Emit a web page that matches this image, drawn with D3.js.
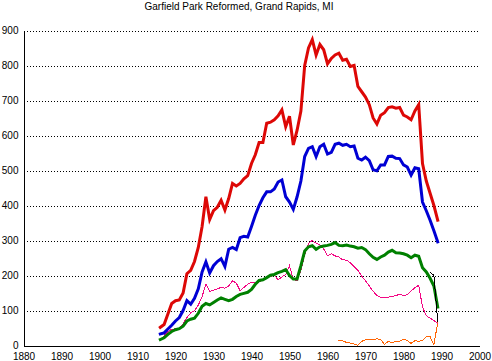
<!DOCTYPE html>
<html>
<head>
<meta charset="utf-8">
<script src="https://cdn.jsdelivr.net/npm/d3@7/dist/d3.min.js"></script>
<style>
html,body{margin:0;padding:0;background:#fff;}
svg{display:block;}
text{font-family:"Liberation Sans",Arial,sans-serif;fill:#000;}
</style>
</head>
<body>
<svg id="chart" width="492" height="361"></svg>
<script>
const title = "Garfield Park Reformed, Grand Rapids, MI";
const xTicks = [1880,1890,1900,1910,1920,1930,1940,1950,1960,1970,1980,1990,2000];
const yTicks = [0,100,200,300,400,500,600,700,800,900];

const years = d3.range(1916, 1990);
const redValues = [52,60,90,120,128,130,150,205,215,240,280,340,425,360,385,395,415,387,420,463,456,463,476,485,520,545,580,580,635,638,645,656,673,625,655,573,615,670,800,850,874,830,860,845,805,820,830,835,815,818,797,800,740,725,710,688,650,633,658,665,680,682,678,680,658,653,645,670,688,520,470,435,400,358];
const blueValues = [33,36,47,58,70,80,100,128,118,135,162,210,239,207,228,240,248,226,275,280,274,308,312,310,340,372,400,422,439,439,447,467,473,425,410,389,425,470,540,563,568,540,568,575,547,552,575,578,572,575,568,570,535,530,538,528,502,499,516,516,540,541,535,534,516,510,487,508,505,410,385,358,328,296];
const greenValues = [17,22,32,40,45,48,55,70,75,78,92,112,120,116,123,130,136,132,128,132,140,146,149,152,160,175,186,188,194,201,203,208,212,217,200,190,190,228,270,282,285,275,282,284,286,289,294,286,285,287,284,282,278,280,274,262,252,246,253,258,267,272,265,264,262,258,251,258,255,222,210,192,170,110];
const magentaValues = [14,28,40,46,48,48,62,80,93,100,115,140,175,155,158,162,166,164,170,185,178,157,166,175,181,178,181,188,193,197,201,188,196,203,228,188,186,215,260,292,300,292,287,276,256,262,256,253,245,244,236,226,215,198,185,170,155,143,138,138,138,140,143,146,143,145,156,165,172,110,85,78,72,62];
const orangeYears = d3.range(1963, 1990);
const orangeValues = [14,13,9,7,4,1,12,16,16,17,19,17,3,12,8,12,12,18,14,6,14,12,15,25,25,2,65];
const blackYears = [1987, 1988, 1989];
const blackValues = [210, 200, 70];

const svg = d3.select("#chart");
const x = d3.scaleLinear().domain([1880, 2000]).range([23.5, 479.5]);
const y = d3.scaleLinear().domain([0, 900]).range([345.5, 30.5]);

// title
svg.append("text").attr("x", 239).attr("y", 10).attr("text-anchor", "middle")
  .style("font-size", "10px").text(title);

// gridlines
svg.append("g").selectAll("line").data(yTicks.filter(d => d > 0)).join("line")
  .attr("x1", 24).attr("x2", 480)
  .attr("y1", d => Math.round(y(d)) + 0.5).attr("y2", d => Math.round(y(d)) + 0.5)
  .attr("stroke", "#000").attr("stroke-width", 1).attr("stroke-dasharray", "1,2")
  .attr("shape-rendering", "crispEdges");

// y axis
const yAxis = d3.axisLeft(y).tickValues(yTicks).tickSize(0).tickPadding(5).tickFormat(d3.format("d"));
const gy = svg.append("g").attr("transform", "translate(23.5,0)").call(yAxis);
gy.select(".domain").attr("stroke", "#000").attr("shape-rendering", "crispEdges");
gy.selectAll("text").style("font-size", "10px").style("font-family", '"Liberation Sans",Arial,sans-serif');

// x axis
const xAxis = d3.axisBottom(x).tickValues(xTicks).tickSize(0).tickPadding(7).tickFormat(d3.format("d"));
const gx = svg.append("g").attr("transform", "translate(0,345.5)").call(xAxis);
gx.select(".domain").attr("stroke", "#000").attr("shape-rendering", "crispEdges");
gx.selectAll("text").style("font-size", "10px").style("font-family", '"Liberation Sans",Arial,sans-serif');

const line = d3.line().x(d => x(d[0])).y(d => y(d[1]));
function draw(xs, vs, color, width, crisp) {
  svg.append("path").datum(xs.map((t, i) => [t, vs[i]]))
    .attr("d", line).attr("fill", "none").attr("stroke", color)
    .attr("stroke-width", width).attr("stroke-linejoin", "miter").attr("stroke-linecap", "square")
    .attr("shape-rendering", crisp ? "crispEdges" : "auto");
}
draw(orangeYears, orangeValues, "#ff6403", 1, true);
draw(years, magentaValues, "#f20884", 1, true);
draw(years, greenValues, "#008000", 3, false);
draw(years, blueValues, "#0000d4", 3, false);
draw(years, redValues, "#dd0806", 3, false);
draw(blackYears, blackValues, "#000", 1, true);
</script>
</body>
</html>
